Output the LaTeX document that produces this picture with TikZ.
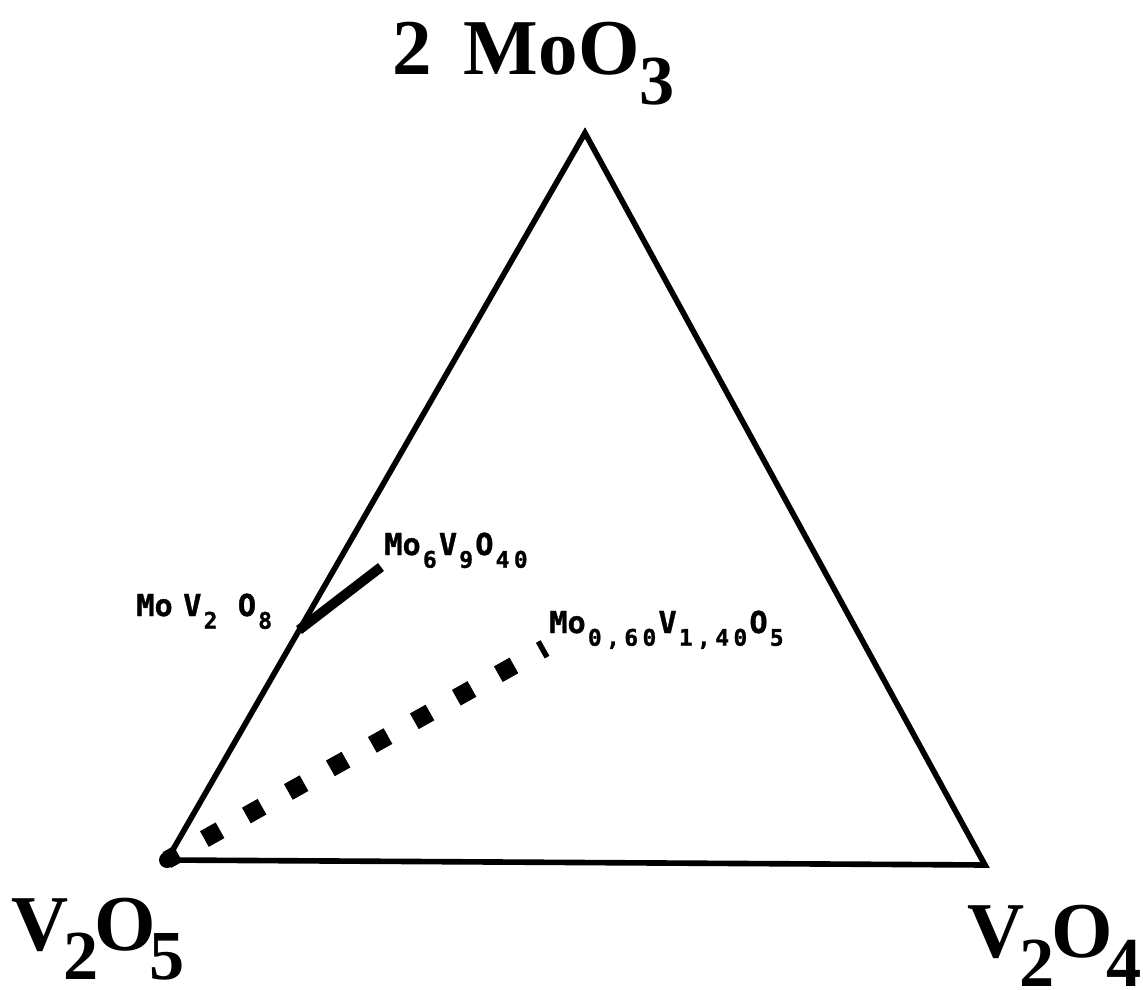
\documentclass[tikz,border=0pt]{standalone}
\usepackage{fontspec}
\setmainfont{Liberation Serif}
\newfontfamily\plotfont[FakeBold=1.2]{DejaVu Sans Mono Bold}
\newcommand\bigsub[1]{\raisebox{-17pt}{\fontsize{40}{40}\selectfont #1}}
\newcommand\sd[1]{\raisebox{-0.42em}{\makebox[0.602em]{\fontsize{13}{13}\selectfont #1}}}
\tikzset{
  edge/.style={line width=3.2pt, line join=miter},
  biglabel/.style={anchor=base west, inner sep=0pt, font=\fontsize{45}{45}\selectfont\bfseries},
  smalllabel/.style={anchor=base west, inner sep=0pt, font=\plotfont\fontsize{17.2}{17.2}\selectfont},
  tieline/.style={line width=5.6pt},
  dotline/.style={line width=10.2pt, dash pattern=on 10.2pt off 17.2pt, dash phase=3pt},
}
\begin{document}
\begin{tikzpicture}[x=0.02cm,y=-0.02cm]
\useasboundingbox (0,0) rectangle (1143,990);
\coordinate (A) at (585,133);
\coordinate (B) at (167,860);
\coordinate (C) at (985,865);
\coordinate (P) at (299,630);
\coordinate (Q) at (381,567);
\coordinate (R) at (545,648);
\coordinate (T1) at (541,645);
\coordinate (T2) at (547,657);
% triangle
\draw[edge] (A) -- (B) -- (C) -- cycle;
\fill (B) circle (8);
% tie line MoV2O8 - Mo6V9O40
\draw[tieline] (P) -- (Q);
% dotted line V2O5 - Mo0.60V1.40O5
\draw[dotline] (B) -- (R);
\draw[line width=1.2pt] (T1) -- (T2);
% corner labels
\node[biglabel] (top) at (392,75) {2\kern7pt\ MoO\kern0pt\bigsub{3}};
\node[biglabel] (bl) at (11,950) {V\kern-3pt\bigsub{2}\kern-2pt O\kern-4pt\bigsub{5}};
\node[biglabel] (br) at (967,957) {V\kern-3pt\bigsub{2}\kern-1.5pt O\kern-4pt\bigsub{4}};
% phase labels
\node[smalllabel] (l1) at (136,616) {Mo\kern6pt V\sd{2}\ O\sd{8}};
\node[smalllabel] (l2) at (384,555) {Mo\sd{6}V\sd{9}O\sd{4}\sd{0}};
\node[smalllabel] (l3) at (549,633) {Mo\sd{0}\sd{,}\sd{6}\sd{0}V\sd{1}\sd{,}\sd{4}\sd{0}O\sd{5}};
\end{tikzpicture}
\end{document}
